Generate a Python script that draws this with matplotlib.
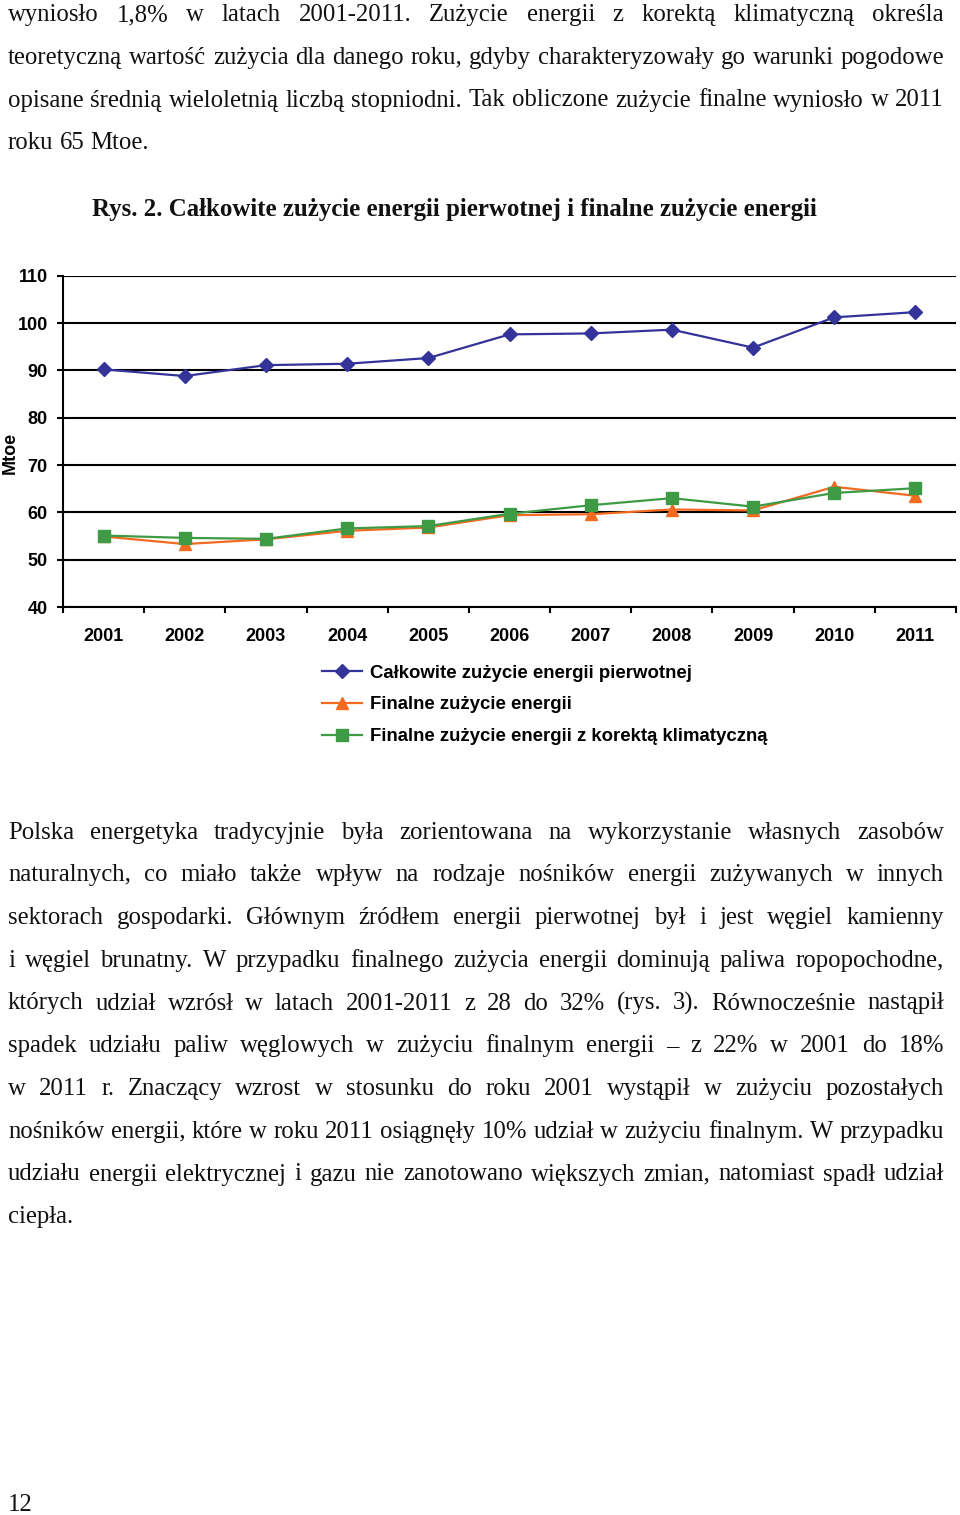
import matplotlib
matplotlib.use("Agg")
import matplotlib.pyplot as plt
import numpy as np

# chart data (Mtoe)
years = ["2001", "2002", "2003", "2004", "2005", "2006",
         "2007", "2008", "2009", "2010", "2011"]
primary = [90.2, 88.8, 91.1, 91.4, 92.6, 97.6, 97.8, 98.6, 94.8, 101.2, 102.3]
final = [54.9, 53.3, 54.3, 56.1, 56.8, 59.4, 59.6, 60.6, 60.4, 65.4, 63.5]
final_corr = [55.1, 54.6, 54.4, 56.6, 57.1, 59.7, 61.5, 63.0, 61.2, 64.1, 65.1]
series_names = ["Całkowite zużycie energii pierwotnej",
                "Finalne zużycie energii",
                "Finalne zużycie energii z korektą klimatyczną"]

# page text
top_lines = [
    "wyniosło 1,8% w latach 2001-2011. Zużycie energii z korektą klimatyczną określa",
    "teoretyczną wartość zużycia dla danego roku, gdyby charakteryzowały go warunki pogodowe",
    "opisane średnią wieloletnią liczbą stopniodni. Tak obliczone zużycie finalne wyniosło w 2011",
    "roku 65 Mtoe.",
]
caption = "Rys. 2. Całkowite zużycie energii pierwotnej i finalne zużycie energii"
bottom_lines = [
    "Polska energetyka tradycyjnie była zorientowana na wykorzystanie własnych zasobów",
    "naturalnych, co miało także wpływ na rodzaje nośników energii zużywanych w innych",
    "sektorach gospodarki. Głównym źródłem energii pierwotnej był i jest węgiel kamienny",
    "i węgiel brunatny. W przypadku finalnego zużycia energii dominują paliwa ropopochodne,",
    "których udział wzrósł w latach 2001-2011 z 28 do 32% (rys. 3). Równocześnie nastąpił",
    "spadek udziału paliw węglowych w zużyciu finalnym energii – z 22% w 2001 do 18%",
    "w 2011 r. Znaczący wzrost w stosunku do roku 2001 wystąpił w zużyciu pozostałych",
    "nośników energii, które w roku 2011 osiągnęły 10% udział w zużyciu finalnym. W przypadku",
    "udziału energii elektrycznej i gazu nie zanotowano większych zmian, natomiast spadł udział",
    "ciepła.",
]
page_no = "12"

W, H = 960, 1515
fig = plt.figure(figsize=(W / 100, H / 100), dpi=100)
renderer = fig.canvas.get_renderer()
serif = dict(family="Liberation Serif", fontsize=17.8, color="#111111")


def fx(x):
    return x / W


def fy(y):
    return 1 - y / H


def text_width(s, **kw):
    t = fig.text(0, 0, s, **kw)
    w = t.get_window_extent(renderer).width
    t.remove()
    return w


def draw_line(s, y_base, justify, x0=8, x1=944, **kw):
    # place word by word so the line can be justified like the page
    words = s.split(" ")
    texts = [fig.text(0, 0, w, va="baseline", ha="left", **kw) for w in words]
    widths = [t.get_window_extent(renderer).width for t in texts]
    if justify and len(words) > 1:
        gap = (x1 - x0 - sum(widths)) / (len(words) - 1)
    else:
        gap = text_width("a a", **kw) - text_width("aa", **kw)
    x = x0
    for t, w in zip(texts, widths):
        t.set_position((fx(x), fy(y_base)))
        x += w + gap


def draw_paragraph(lines, y_first, step=42.75):
    for i, s in enumerate(lines):
        draw_line(s, y_first + i * step, justify=(i < len(lines) - 1), **serif)


draw_paragraph(top_lines, 21)
draw_paragraph(bottom_lines, 838.5)
fig.text(fx(454), fy(216), caption, ha="center", va="baseline",
         family="Liberation Serif", fontsize=17.9, fontweight="bold", color="#111111")
fig.text(fx(8), fy(1511), page_no, ha="left", va="baseline", **serif)

# chart
sans = "Liberation Sans"
fs = 13
ax = fig.add_axes([fx(63), fy(607), (956 - 63) / W, (607 - 275.7) / H])
x = np.arange(len(years))
ax.plot(x, primary, color="#333399", lw=1.6, marker="D", ms=7.5, label=series_names[0])
ax.plot(x, final, color="#F26B21", lw=1.6, marker="^", ms=8.5, label=series_names[1])
ax.plot(x, final_corr, color="#3F9A45", lw=1.6, marker="s", ms=8.5, label=series_names[2])

ax.set_xlim(-0.5, len(years) - 0.5)
ax.set_ylim(40, 110)
ax.set_yticks(np.arange(40, 111, 10))
ax.yaxis.grid(True, color="black", lw=1.5)
ax.set_axisbelow(True)
ax.set_xticks(x)
ax.set_xticklabels(years)
ax.set_xticks(np.arange(-0.5, len(years)), minor=True)
ax.tick_params(axis="x", which="major", length=0, pad=15)
ax.tick_params(axis="x", which="minor", length=4, width=1.5, direction="out")
ax.tick_params(axis="y", length=4, width=1.5, direction="out", pad=7)
for lab in ax.get_xticklabels() + ax.get_yticklabels():
    lab.set_fontfamily(sans)
    lab.set_fontweight("bold")
    lab.set_fontsize(fs)
for side in ("top", "right"):
    ax.spines[side].set_visible(False)
for side in ("left", "bottom"):
    ax.spines[side].set_linewidth(1.5)

fig.text(fx(10), fy(453), "Mtoe", rotation=90, ha="center", va="center",
         family=sans, fontweight="bold", fontsize=fs)

fig.legend(loc="upper left", bbox_to_anchor=(fx(322), fy(664.5)), frameon=False,
           prop=dict(family=sans, weight="bold", size=13.4),
           handlelength=2.15, handletextpad=0.43, labelspacing=0.8,
           borderaxespad=0, borderpad=0)

fig.savefig("out.png", dpi=100)
